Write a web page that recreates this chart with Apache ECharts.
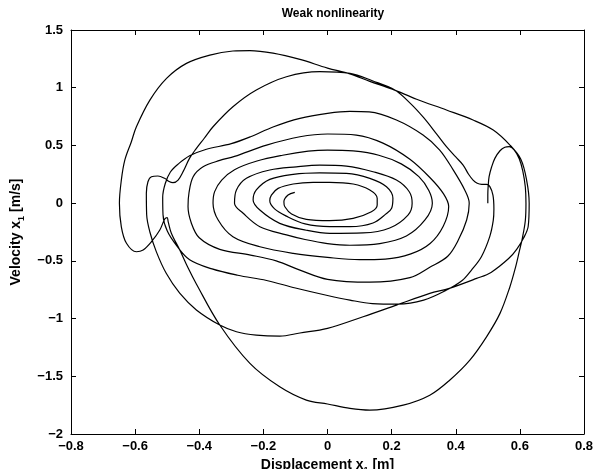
<!DOCTYPE html>
<html><head><meta charset="utf-8">
<script src="https://cdn.jsdelivr.net/npm/echarts/dist/echarts.min.js"></script>
<style>html,body{margin:0;padding:0;background:#fff}#c{width:602px;height:469px}</style>
</head><body><div id="c"></div>
<script>
const titleText = 'Weak nonlinearity';
const xRange = [-0.8, 0.8, 0.2];
const yRange = [-2, 1.5, 0.5];

// trajectory pieces, in time order (displacement, velocity)
const seg0 = [
[0.5,0],[0.5,0.07],[0.501,0.142],[0.504,0.229],[0.512,0.315],[0.522,0.388],[0.538,0.454],[0.553,0.484],[0.567,0.49],[0.582,0.462],[0.598,0.385],[0.609,0.28],[0.617,0.14],[0.619,0],[0.617,-0.15],[0.608,-0.3],[0.598,-0.42],[0.586,-0.56],[0.569,-0.724],[0.538,-0.955],[0.496,-1.158],[0.444,-1.36],[0.381,-1.534],[0.319,-1.664],[0.236,-1.75],[0.132,-1.793],[0.07,-1.778],[0,-1.74],[-0.066,-1.706],[-0.149,-1.591],[-0.242,-1.388],[-0.336,-1.056],[-0.409,-0.7],[-0.435,-0.56],[-0.46,-0.41],[-0.487,-0.26],[-0.497,-0.16],[-0.5,-0.125],[-0.508,-0.14],[-0.523,-0.233],[-0.549,-0.334],[-0.575,-0.406],[-0.596,-0.421],[-0.627,-0.348],[-0.643,-0.205],[-0.649,0],[-0.643,0.2],[-0.632,0.374],[-0.612,0.53]
];
const seg1 = [
[-0.596,0.662],[-0.554,0.893],[-0.502,1.081],[-0.44,1.211],[-0.367,1.283],[-0.295,1.318],[-0.242,1.322],[-0.17,1.3],[-0.086,1.245],[0,1.17],[0.07,1.12],[0.132,1.055],[0.2,0.99],[0.278,0.9],[0.371,0.807],[0.454,0.72],[0.517,0.633],[0.569,0.503],[0.603,0.38],[0.621,0.2],[0.629,0],[0.626,-0.2],[0.612,-0.3],[0.59,-0.4],[0.565,-0.48],[0.51,-0.6],[0.465,-0.652],[0.38,-0.738],[0.319,-0.782],[0.215,-0.883],[0.111,-0.984],[0,-1.085],[-0.086,-1.125],[-0.149,-1.152],[-0.222,-1.143],[-0.284,-1.114],[-0.336,-1.056],[-0.409,-0.925],[-0.461,-0.78],[-0.503,-0.608],[-0.534,-0.42],[-0.554,-0.25],[-0.564,-0.1]
];
const seg2 = [
[-0.565,0.085],[-0.56,0.185],[-0.549,0.229],[-0.529,0.235],[-0.508,0.215],[-0.494,0.187],[-0.482,0.177],[-0.466,0.2],[-0.45,0.275],[-0.43,0.39],[-0.41,0.47],[-0.385,0.56],[-0.357,0.662],[-0.295,0.835],[-0.222,0.98],[-0.128,1.095],[-0.024,1.139],[0.07,1.125],[0.14,1.06],[0.21,0.98],[0.26,0.86],[0.3,0.74],[0.34,0.6],[0.371,0.489],[0.4,0.4],[0.423,0.33],[0.44,0.25],[0.454,0.2],[0.467,0.172],[0.481,0.163],[0.496,0.163],[0.506,0.145],[0.516,0.07],[0.519,-0.05],[0.517,-0.15],[0.506,-0.29],[0.48,-0.464],[0.449,-0.58],[0.42,-0.67],[0.37,-0.755],[0.3,-0.84],[0.22,-0.875],[0.14,-0.87],[0.07,-0.84],[0,-0.8],[-0.1,-0.735],[-0.19,-0.67],[-0.28,-0.625],[-0.36,-0.57],[-0.43,-0.49],[-0.47,-0.37],[-0.5,-0.24],[-0.513,-0.1]
];
const seg3 = [
[-0.514,0.05],[-0.506,0.17],[-0.49,0.27],[-0.465,0.34],[-0.43,0.41],[-0.38,0.465],[-0.3,0.515],[-0.24,0.575],[-0.17,0.66],[-0.086,0.735],[0,0.778],[0.07,0.795],[0.13,0.79],[0.215,0.72],[0.298,0.59],[0.35,0.46],[0.392,0.288],[0.428,0.114],[0.442,0],[0.434,-0.146],[0.408,-0.32],[0.375,-0.46],[0.319,-0.555],[0.257,-0.645],[0.132,-0.685],[0,-0.66],[-0.086,-0.58],[-0.16,-0.5],[-0.24,-0.45],[-0.336,-0.4],[-0.4,-0.3],[-0.425,-0.17],[-0.435,-0.03]
];
const seg4 = [
[-0.432,0.09],[-0.419,0.229],[-0.388,0.315],[-0.336,0.37],[-0.29,0.405],[-0.19,0.503],[-0.086,0.575],[0,0.599],[0.09,0.59],[0.173,0.52],[0.257,0.38],[0.32,0.22],[0.362,0.08],[0.378,-0.03],[0.361,-0.2],[0.32,-0.35],[0.26,-0.44],[0.18,-0.485],[0.1,-0.49],[0,-0.47],[-0.107,-0.435],[-0.211,-0.378],[-0.295,-0.291],[-0.341,-0.146],[-0.357,0]
];
const seg5 = [
[-0.352,0.1],[-0.33,0.2],[-0.29,0.29],[-0.22,0.365],[-0.14,0.415],[-0.06,0.45],[0,0.46],[0.08,0.452],[0.16,0.415],[0.23,0.34],[0.285,0.23],[0.316,0.11],[0.327,0],[0.304,-0.146],[0.246,-0.285],[0.163,-0.35],[0.07,-0.365],[0,-0.35],[-0.07,-0.315],[-0.128,-0.275],[-0.211,-0.204],[-0.263,-0.088],[-0.29,0]
];
const seg6 = [
[-0.284,0.114],[-0.253,0.215],[-0.18,0.287],[-0.097,0.315],[-0.024,0.33],[0.059,0.321],[0.142,0.272],[0.215,0.2],[0.255,0.099],[0.264,0],[0.251,-0.103],[0.194,-0.215],[0.111,-0.258],[0.007,-0.262],[-0.066,-0.235],[-0.149,-0.175],[-0.211,-0.06],[-0.232,0.027]
];
const seg7 = [
[-0.222,0.114],[-0.18,0.206],[-0.107,0.25],[-0.024,0.263],[0.059,0.258],[0.132,0.215],[0.184,0.142],[0.204,0.042],[0.2,-0.045],[0.184,-0.09],[0.142,-0.172],[0.07,-0.204],[0.007,-0.204],[-0.07,-0.18],[-0.13,-0.11],[-0.165,-0.05],[-0.18,0.02]
];
const seg8 = [
[-0.175,0.07],[-0.154,0.128],[-0.107,0.166],[-0.045,0.18],[0.007,0.18],[0.08,0.166],[0.132,0.114],[0.155,0.042],[0.155,-0.016],[0.137,-0.075],[0.08,-0.132],[0.007,-0.152],[-0.066,-0.141],[-0.112,-0.094],[-0.133,-0.031],[-0.136,0.012],[-0.123,0.07],[-0.102,0.094]
];

const path = [].concat(seg0, seg1, seg2, seg3, seg4, seg5, seg6, seg7, seg8);

const FONT = 'Liberation Sans, Arial, sans-serif';
const fmt = v => {
  const r = Math.round(v * 10) / 10;
  return String(r).replace('-', '\u2212');
};
const lbl = {fontFamily: FONT, fontWeight: 'bold', fontSize: 13, color: '#000'};
const tick = {show: true, inside: true, length: 5, lineStyle: {color: '#000', width: 1}};
const line = {show: true, onZero: false, lineStyle: {color: '#000', width: 1}};
const nameRich = {
  a: {fontFamily: FONT, fontWeight: 'bold', fontSize: 14, color: '#000', lineHeight: 16, verticalAlign: 'bottom'},
  s: {fontFamily: FONT, fontWeight: 'bold', fontSize: 9, color: '#000', lineHeight: 16, verticalAlign: 'bottom', padding: [0, 0, -3, 0]}
};

const chart = echarts.init(document.getElementById('c'), null, {renderer: 'canvas'});
chart.setOption({
  animation: false,
  backgroundColor: '#fff',
  title: {text: titleText, left: 328, top: 3, textAlign: 'center',
    textStyle: {fontFamily: FONT, fontWeight: 'bold', fontSize: 12, color: '#000'}},
  grid: {left: 71, top: 30, width: 513, height: 404, containLabel: false, outerBoundsMode: 'none'},
  xAxis: [
    {type: 'value', min: xRange[0], max: xRange[1], interval: xRange[2], position: 'bottom',
     axisLine: line, axisTick: tick, splitLine: {show: false},
     axisLabel: Object.assign({formatter: fmt, margin: 6}, lbl),
     name: '{a|Displacement x}{s|1}{a| [m]}', nameLocation: 'middle', nameGap: 18,
     nameTextStyle: {rich: nameRich}},
    {type: 'value', min: xRange[0], max: xRange[1], interval: xRange[2], position: 'top',
     axisLine: line, axisTick: tick, splitLine: {show: false}, axisLabel: {show: false}}
  ],
  yAxis: [
    {type: 'value', min: yRange[0], max: yRange[1], interval: yRange[2], position: 'left',
     axisLine: line, axisTick: tick, splitLine: {show: false},
     axisLabel: Object.assign({formatter: fmt, margin: 8}, lbl),
     name: '{a|Velocity x}{s|1}{a| [m/s]}', nameLocation: 'middle', nameGap: 42, nameRotate: 90,
     nameTextStyle: {rich: nameRich}},
    {type: 'value', min: yRange[0], max: yRange[1], interval: yRange[2], position: 'right',
     axisLine: line, axisTick: tick, splitLine: {show: false}, axisLabel: {show: false}}
  ],
  series: [{
    type: 'line', data: path, showSymbol: false, smooth: 0.35, clip: true,
    lineStyle: {color: '#000', width: 1.2}
  }]
});
</script>
</body></html>
